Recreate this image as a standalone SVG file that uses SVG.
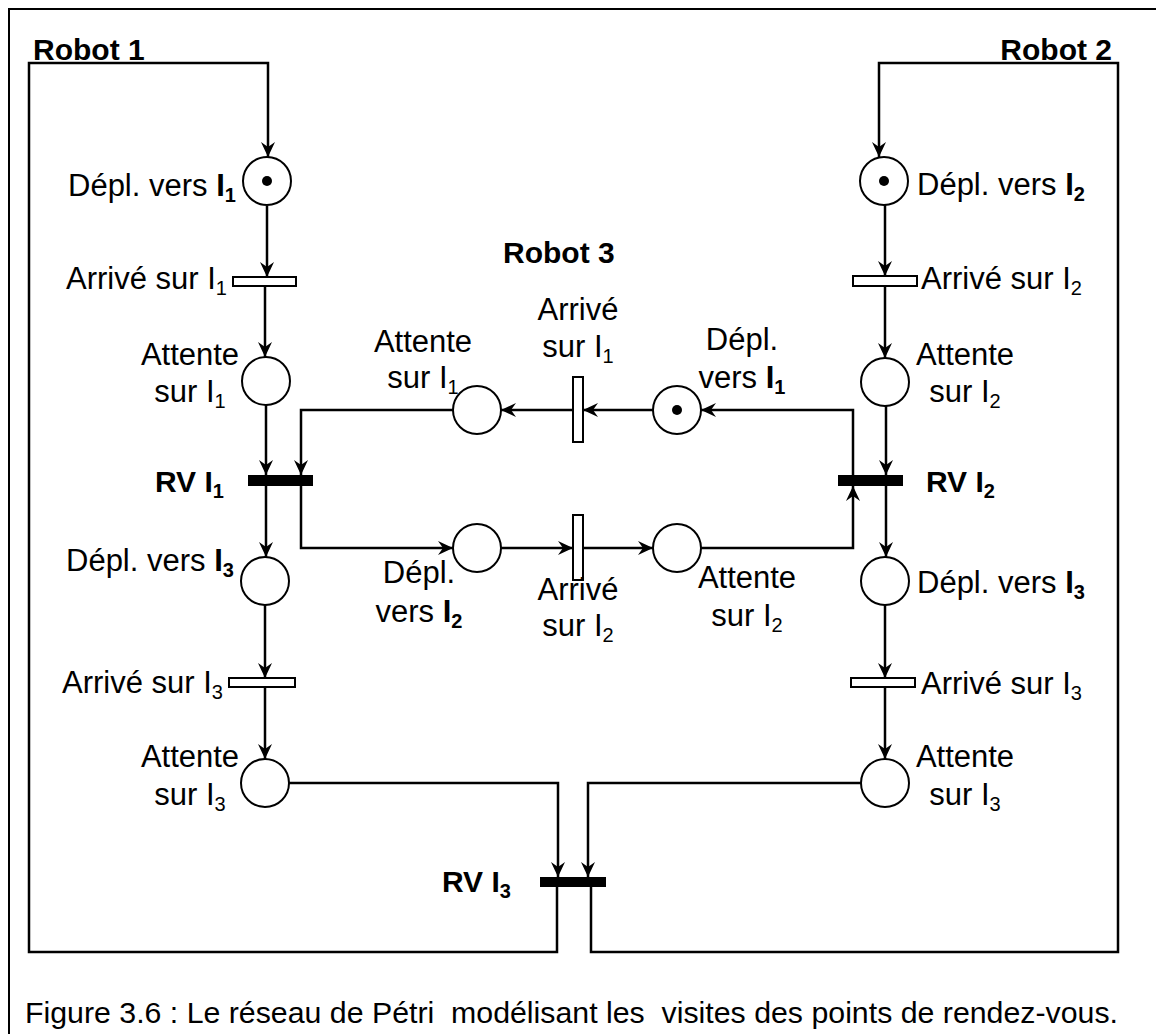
<svg xmlns="http://www.w3.org/2000/svg" width="1156" height="1034" viewBox="0 0 1156 1034">
<defs>
<marker id="ah" markerWidth="16" markerHeight="16" viewBox="-16 -8 16 16" refX="0" refY="0" orient="auto" markerUnits="userSpaceOnUse">
<path d="M0,0 L-15,-7 L-10,0 L-15,7 Z" fill="#000"/>
</marker>
</defs>
<style>
text{font-family:"Liberation Sans",Arial,sans-serif;font-size:31px;fill:#000}
.b{font-weight:bold}
.rb{font-weight:bold;font-size:30px}
.m{text-anchor:middle}
.e{text-anchor:end}
.sub{font-size:20px}
.cap{font-size:30.3px}
.pl{fill:#fff;stroke:#000;stroke-width:2}
.tr{fill:#fff;stroke:#000;stroke-width:2}
.bar{fill:#000}
.tok{fill:#000}
#connectors path{fill:none;stroke:#000;stroke-width:2.5;marker-end:url(#ah)}
</style>
<rect width="1156" height="1034" fill="#fff"/>
<rect x="9" y="9" width="1200" height="1100" fill="none" stroke="#000" stroke-width="2"/>

<g id="connectors">
<path d="M557,887 V952 H29 V63 H268 V157"/>
<path d="M267,206 V277"/>
<path d="M265,286 V357"/>
<path d="M266,405 V475"/>
<path d="M266,486 V557"/>
<path d="M265,605 V678"/>
<path d="M265,687 V759"/>
<path d="M289,783 H558 V877"/>
<path d="M591,887 V952 H1118 V63 H879 V157"/>
<path d="M885,205 V276"/>
<path d="M885,286 V358"/>
<path d="M886,406 V475"/>
<path d="M886,486 V557"/>
<path d="M885,605 V678"/>
<path d="M885,687 V759"/>
<path d="M861,783 H588 V877"/>
<path d="M853,475 V410 H701"/>
<path d="M653,410 H583"/>
<path d="M573,410 H501"/>
<path d="M453,410 H301 V475"/>
<path d="M301,486 V548 H453"/>
<path d="M501,548 H573"/>
<path d="M583,548 H653"/>
<path d="M701,548 H853 V486"/>
</g>

<g id="r1_depl_i1"><circle class="pl" cx="267" cy="181" r="24"/><circle class="tok" cx="267" cy="181" r="5"/><text x="68" y="196">Dépl. vers <tspan class="b">I</tspan><tspan class="b sub" dy="6">1</tspan></text></g>
<g id="r1_arr_i1"><rect class="tr" x="233" y="277" width="63" height="9"/><text x="66" y="289">Arrivé sur I<tspan class="sub" dy="6">1</tspan></text></g>
<g id="r1_att_i1"><circle class="pl" cx="266" cy="381" r="24"/><text class="m" x="190" y="365">Attente</text><text class="m" x="190" y="402">sur I<tspan class="sub" dy="6">1</tspan></text></g>
<g id="rv_i1"><rect class="bar" x="248" y="475" width="65" height="11"/><text class="b rb" x="155" y="492">RV I<tspan class="sub" dy="6">1</tspan></text></g>
<g id="r1_depl_i3"><circle class="pl" cx="265" cy="581" r="24"/><text x="66" y="571">Dépl. vers <tspan class="b">I</tspan><tspan class="b sub" dy="6">3</tspan></text></g>
<g id="r1_arr_i3"><rect class="tr" x="229" y="678" width="66" height="9"/><text x="62" y="693">Arrivé sur I<tspan class="sub" dy="6">3</tspan></text></g>
<g id="r1_att_i3"><circle class="pl" cx="265" cy="783" r="24"/><text class="m" x="190" y="767">Attente</text><text class="m" x="190" y="805">sur I<tspan class="sub" dy="6">3</tspan></text></g>

<g id="r2_depl_i2"><circle class="pl" cx="884" cy="181" r="24"/><circle class="tok" cx="884" cy="181" r="5"/><text x="917" y="195">Dépl. vers <tspan class="b">I</tspan><tspan class="b sub" dy="6">2</tspan></text></g>
<g id="r2_arr_i2"><rect class="tr" x="853" y="276" width="64" height="10"/><text x="921" y="289">Arrivé sur I<tspan class="sub" dy="6">2</tspan></text></g>
<g id="r2_att_i2"><circle class="pl" cx="885" cy="382" r="24"/><text class="m" x="965" y="365">Attente</text><text class="m" x="965" y="402">sur I<tspan class="sub" dy="6">2</tspan></text></g>
<g id="rv_i2"><rect class="bar" x="838" y="475" width="65" height="11"/><text class="b rb" x="926" y="492">RV I<tspan class="sub" dy="6">2</tspan></text></g>
<g id="r2_depl_i3"><circle class="pl" cx="885" cy="581" r="24"/><text x="917" y="593">Dépl. vers <tspan class="b">I</tspan><tspan class="b sub" dy="6">3</tspan></text></g>
<g id="r2_arr_i3"><rect class="tr" x="851" y="678" width="64" height="9"/><text x="921" y="694">Arrivé sur I<tspan class="sub" dy="6">3</tspan></text></g>
<g id="r2_att_i3"><circle class="pl" cx="885" cy="783" r="24"/><text class="m" x="965" y="767">Attente</text><text class="m" x="965" y="805">sur I<tspan class="sub" dy="6">3</tspan></text></g>

<g id="rv_i3"><rect class="bar" x="540" y="877" width="66" height="10"/><text class="b rb" x="442" y="892">RV I<tspan class="sub" dy="6">3</tspan></text></g>

<g id="r3_depl_i1"><circle class="pl" cx="677" cy="410" r="24"/><circle class="tok" cx="677" cy="410" r="5"/><text class="m" x="742" y="350">Dépl.</text><text class="m" x="742" y="388">vers <tspan class="b">I</tspan><tspan class="b sub" dy="6">1</tspan></text></g>
<g id="r3_arr_i1"><rect class="tr" x="573" y="377" width="10" height="65"/><text class="m" x="578" y="320">Arrivé</text><text class="m" x="578" y="357">sur I<tspan class="sub" dy="6">1</tspan></text></g>
<g id="r3_att_i1"><circle class="pl" cx="477" cy="410" r="24"/><text class="m" x="423" y="352">Attente</text><text class="m" x="423" y="388">sur I<tspan class="sub" dy="6">1</tspan></text></g>
<g id="r3_depl_i2"><circle class="pl" cx="477" cy="548" r="24"/><text class="m" x="419" y="583">Dépl.</text><text class="m" x="419" y="622">vers <tspan class="b">I</tspan><tspan class="b sub" dy="6">2</tspan></text></g>
<g id="r3_arr_i2"><rect class="tr" x="573" y="515" width="10" height="65"/><text class="m" x="578" y="600">Arrivé</text><text class="m" x="578" y="636">sur I<tspan class="sub" dy="6">2</tspan></text></g>
<g id="r3_att_i2"><circle class="pl" cx="677" cy="548" r="24"/><text class="m" x="747" y="588">Attente</text><text class="m" x="747" y="626">sur I<tspan class="sub" dy="6">2</tspan></text></g>

<g id="labels">
<text class="rb" x="33" y="60">Robot 1</text>
<text class="rb e" x="1112" y="60">Robot 2</text>
<text class="rb" x="503" y="263">Robot 3</text>
<text class="cap" x="25" y="1023" xml:space="preserve">Figure 3.6 : Le réseau de Pétri  modélisant les  visites des points de rendez-vous.</text>
</g>
</svg>
